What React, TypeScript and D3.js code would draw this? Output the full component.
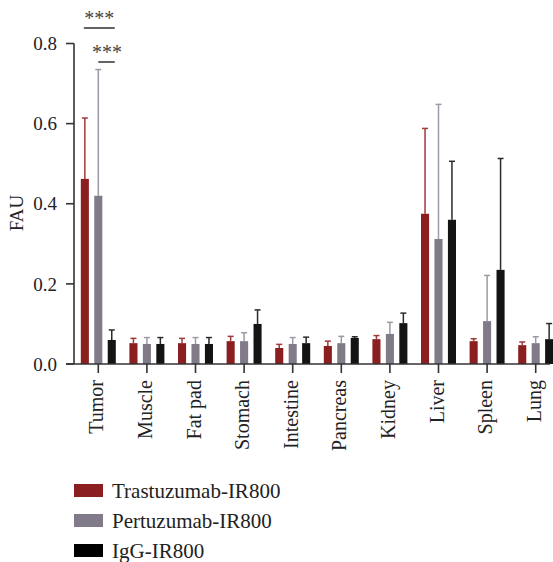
import React from 'react';
import * as d3 from 'd3';

const organs = ['Tumor', 'Muscle', 'Fat pad', 'Stomach', 'Intestine', 'Pancreas', 'Kidney', 'Liver', 'Spleen', 'Lung'];
const seriesNames = ['Trastuzumab-IR800', 'Pertuzumab-IR800', 'IgG-IR800'];

const trastuzumabMean = [0.462, 0.052, 0.052, 0.057, 0.04, 0.045, 0.062, 0.375, 0.057, 0.047];
const trastuzumabSd = [0.152, 0.012, 0.012, 0.012, 0.009, 0.012, 0.009, 0.213, 0.006, 0.008];
const pertuzumabMean = [0.42, 0.05, 0.05, 0.057, 0.05, 0.052, 0.075, 0.312, 0.107, 0.052];
const pertuzumabSd = [0.315, 0.016, 0.016, 0.021, 0.016, 0.017, 0.029, 0.336, 0.114, 0.016];
const iggMean = [0.06, 0.05, 0.05, 0.1, 0.052, 0.065, 0.102, 0.36, 0.235, 0.062];
const iggSd = [0.025, 0.016, 0.016, 0.035, 0.015, 0.003, 0.025, 0.146, 0.278, 0.039];

const yTicks = [0, 0.2, 0.4, 0.6, 0.8];

const barColors = ['#8b1e1e', '#807a89', '#141414'];
const errColors = ['#a03a3a', '#9e99a6', '#2a2a2a'];

const font = '"Liberation Serif", "DejaVu Serif", serif';

export default function App() {
  const left = 74;
  const zeroY = 364;
  const step = 48.6;

  const x = d3.scaleBand<string>()
    .domain(organs)
    .range([left, left + step * organs.length])
    .paddingInner(0.28)
    .paddingOuter(0.14);
  const xs = d3.scaleBand<number>()
    .domain([0, 1, 2])
    .range([0, x.bandwidth()])
    .paddingInner(0.4);

  const y = d3.scaleLinear().domain([0, 0.8]).range([zeroY, 43.5]);

  const means = [trastuzumabMean, pertuzumabMean, iggMean];
  const sds = [trastuzumabSd, pertuzumabSd, iggSd];

  const tumorX = x('Tumor')!;
  const cx = (s: number) => tumorX + xs(s)! + xs.bandwidth() / 2;

  return (
    <svg width={553} height={562} style={{ position: 'absolute', left: 0, top: 0 }} fontFamily={font}>
      <rect width={553} height={562} fill="#fff" />

      {/* y axis */}
      <line x1={left} x2={left} y1={y(0.8)} y2={zeroY} stroke="#333" strokeWidth={1.6} />
      {yTicks.map(t => (
        <g key={t}>
          <line x1={66} x2={left} y1={y(t)} y2={y(t)} stroke="#333" strokeWidth={1.6} />
          <text x={57} y={y(t)} dy="0.35em" textAnchor="end" fontSize={19} fill="#222">{t.toFixed(1)}</text>
        </g>
      ))}
      <text transform={`translate(23,213) rotate(-90)`} textAnchor="middle" fontSize={19} fill="#222">FAU</text>

      {/* bars */}
      {organs.map((o, i) => (
        <g key={o}>
          {means.map((m, s) => {
            const bx = x(o)! + xs(s)!;
            const bw = xs.bandwidth();
            const mid = bx + bw / 2;
            const top = y(m[i] + sds[s][i]);
            return (
              <g key={s}>
                <line x1={mid} x2={mid} y1={y(m[i])} y2={top} stroke={errColors[s]} strokeWidth={1.5} />
                <line x1={mid - 3} x2={mid + 3} y1={top} y2={top} stroke={errColors[s]} strokeWidth={1.5} />
                <rect x={bx} y={y(m[i])} width={bw} height={zeroY - y(m[i])} fill={barColors[s]} />
              </g>
            );
          })}
        </g>
      ))}

      {/* x axis */}
      <line x1={66} x2={550} y1={zeroY} y2={zeroY} stroke="#333" strokeWidth={1.6} />
      {organs.map(o => {
        const c = x(o)! + x.bandwidth() / 2;
        return (
          <g key={o}>
            <line x1={c} x2={c} y1={zeroY} y2={373} stroke="#333" strokeWidth={1.6} />
            <text transform={`translate(${c + 5},380) rotate(-90)`} textAnchor="end" fontSize={20} fill="#222">{o}</text>
          </g>
        );
      })}

      {/* significance */}
      <line x1={cx(0) - 1} x2={cx(2) + 3} y1={28} y2={28} stroke="#222" strokeWidth={1.4} />
      <text x={(cx(0) + cx(2)) / 2 + 1} y={25} textAnchor="middle" fontSize={20} fill="#444">***</text>
      <line x1={cx(1)} x2={cx(2) + 3} y1={62} y2={62} stroke="#222" strokeWidth={1.4} />
      <text x={(cx(1) + cx(2)) / 2 + 2} y={59} textAnchor="middle" fontSize={20} fill="#444">***</text>

      {/* legend */}
      {seriesNames.map((n, s) => (
        <g key={n} transform={`translate(74,${484 + s * 30})`}>
          <rect width={29} height={13} fill={s === 2 ? '#000' : barColors[s]} />
          <text x={38} y={6.5} dy="0.35em" fontSize={21} fill="#222">{n}</text>
        </g>
      ))}
    </svg>
  );
}
